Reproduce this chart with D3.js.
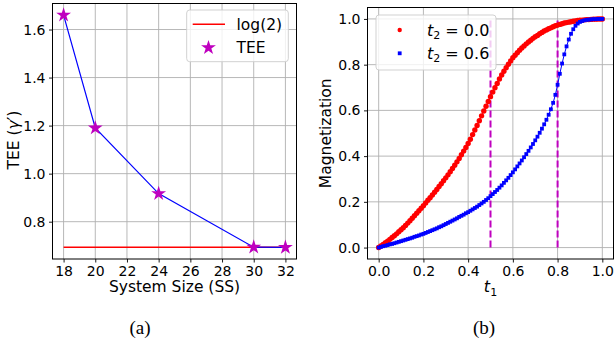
<!DOCTYPE html>
<html>
<head>
<meta charset="utf-8">
<script src="https://cdn.jsdelivr.net/npm/d3@7"></script>
<style>
  body { margin: 0; background: #fff; }
  svg { display: block; font-family: "DejaVu Sans", sans-serif; }
</style>
</head>
<body>
<div id="container"></div>
<script>
/* DATA */
// panel (a): TEE vs system size
const systemSize = [18, 20, 24, 30, 32]
const teeValues = [1.66, 1.19, 0.917, 0.694, 0.693]
const log2Level = 0.6931
const sizeTicks = [18, 20, 22, 24, 26, 28, 30, 32]
const teeTicks = [0.8, 1.0, 1.2, 1.4, 1.6]

// panel (b): magnetization vs t1
const t1Values = [
  0.00, 0.01, 0.02, 0.03, 0.04, 0.05, 0.06, 0.07, 0.08, 0.09,
  0.10, 0.11, 0.12, 0.13, 0.14, 0.15, 0.16, 0.17, 0.18, 0.19,
  0.20, 0.21, 0.22, 0.23, 0.24, 0.25, 0.26, 0.27, 0.28, 0.29,
  0.30, 0.31, 0.32, 0.33, 0.34, 0.35, 0.36, 0.37, 0.38, 0.39,
  0.40, 0.41, 0.42, 0.43, 0.44, 0.45, 0.46, 0.47, 0.48, 0.49,
  0.50, 0.51, 0.52, 0.53, 0.54, 0.55, 0.56, 0.57, 0.58, 0.59,
  0.60, 0.61, 0.62, 0.63, 0.64, 0.65, 0.66, 0.67, 0.68, 0.69,
  0.70, 0.71, 0.72, 0.73, 0.74, 0.75, 0.76, 0.77, 0.78, 0.79,
  0.80, 0.81, 0.82, 0.83, 0.84, 0.85, 0.86, 0.87, 0.88, 0.89,
  0.90, 0.91, 0.92, 0.93, 0.94, 0.95, 0.96, 0.97, 0.98, 0.99,
  1.00]
const magT2zero = [
  0.000, 0.007, 0.014, 0.021, 0.028, 0.036, 0.044, 0.052, 0.060, 0.069,
  0.078, 0.087, 0.097, 0.107, 0.117, 0.128, 0.139, 0.150, 0.161, 0.172,
  0.183, 0.195, 0.207, 0.218, 0.230, 0.242, 0.254, 0.267, 0.279, 0.292,
  0.305, 0.318, 0.332, 0.346, 0.360, 0.375, 0.390, 0.406, 0.422, 0.438,
  0.455, 0.474, 0.494, 0.514, 0.534, 0.555, 0.576, 0.597, 0.618, 0.639,
  0.660, 0.680, 0.699, 0.718, 0.737, 0.755, 0.771, 0.787, 0.802, 0.816,
  0.830, 0.841, 0.852, 0.863, 0.873, 0.882, 0.891, 0.899, 0.907, 0.915,
  0.922, 0.928, 0.935, 0.941, 0.947, 0.952, 0.957, 0.961, 0.966, 0.970,
  0.973, 0.976, 0.979, 0.982, 0.984, 0.986, 0.988, 0.990, 0.991, 0.993,
  0.994, 0.995, 0.996, 0.997, 0.997, 0.998, 0.999, 0.999, 1.000, 1.000,
  1.000]
const magT2six = [
  0.000, 0.003, 0.006, 0.008, 0.011, 0.014, 0.016, 0.019, 0.022, 0.025,
  0.028, 0.031, 0.034, 0.037, 0.040, 0.043, 0.047, 0.050, 0.053, 0.057,
  0.060, 0.064, 0.068, 0.072, 0.076, 0.080, 0.084, 0.089, 0.093, 0.098,
  0.103, 0.108, 0.113, 0.118, 0.123, 0.128, 0.134, 0.139, 0.144, 0.150,
  0.155, 0.161, 0.167, 0.173, 0.179, 0.186, 0.193, 0.200, 0.208, 0.216,
  0.225, 0.234, 0.243, 0.252, 0.262, 0.272, 0.283, 0.294, 0.305, 0.317,
  0.329, 0.342, 0.355, 0.368, 0.381, 0.395, 0.409, 0.423, 0.438, 0.453,
  0.469, 0.485, 0.502, 0.520, 0.539, 0.559, 0.581, 0.605, 0.633, 0.668,
  0.712, 0.760, 0.805, 0.845, 0.880, 0.910, 0.935, 0.955, 0.970, 0.980,
  0.987, 0.991, 0.994, 0.996, 0.997, 0.998, 0.999, 0.999, 1.000, 1.000,
  1.000]
const markLines = [0.5, 0.8]
const t1Ticks = [0.0, 0.2, 0.4, 0.6, 0.8, 1.0]
const magTicks = [0.0, 0.2, 0.4, 0.6, 0.8, 1.0]

/* CONSTANTS */
const width = 614, height = 345
const boxA = {x0: 52.5, x1: 296.5, y0: 3.5, y1: 259}
const boxB = {x0: 367.5, x1: 613.5, y0: 7.5, y1: 259}
const tickFont = "14px", labelFont = "15.5px"
const gridColor = "#b0b0b0"

const svg = d3.select("#container")
  .append("svg")
    .attr("width", width)
    .attr("height", height)

// helper: grid + axes for one panel
function drawFrame(g, box, x, y, xTicks, yTicks, fmtX, fmtY) {
  g.append("g").selectAll("line")
    .data(xTicks).join("line")
      .attr("x1", d => x(d)).attr("x2", d => x(d))
      .attr("y1", box.y0).attr("y2", box.y1)
      .attr("stroke", gridColor).attr("stroke-width", 0.9)
  g.append("g").selectAll("line")
    .data(yTicks).join("line")
      .attr("x1", box.x0).attr("x2", box.x1)
      .attr("y1", d => y(d)).attr("y2", d => y(d))
      .attr("stroke", gridColor).attr("stroke-width", 0.9)

  const ax = g.append("g")
    .attr("transform", "translate(0," + box.y1 + ")")
    .call(d3.axisBottom(x).tickValues(xTicks).tickFormat(fmtX).tickSize(3.5).tickPadding(3.5))
  const ay = g.append("g")
    .attr("transform", "translate(" + box.x0 + ",0)")
    .call(d3.axisLeft(y).tickValues(yTicks).tickFormat(fmtY).tickSize(3.5).tickPadding(3.5))
  for (const a of [ax, ay]) {
    a.select(".domain").remove()
    a.selectAll("text").attr("font-size", tickFont).attr("font-family", "DejaVu Sans").attr("fill", "#000")
    a.selectAll("line").attr("stroke", "#000").attr("stroke-width", 0.9)
  }
}

function drawBorder(g, box) {
  g.append("rect")
    .attr("x", box.x0).attr("y", box.y0)
    .attr("width", box.x1 - box.x0).attr("height", box.y1 - box.y0)
    .attr("fill", "none").attr("stroke", "#000").attr("stroke-width", 1)
}

/* PANEL (a) */
const gA = svg.append("g")
const xA = d3.scaleLinear().domain([17.3, 32.7]).range([boxA.x0, boxA.x1])
const yA = d3.scaleLinear().domain([0.6447, 1.7083]).range([boxA.y1, boxA.y0])
drawFrame(gA, boxA, xA, yA, sizeTicks, teeTicks, d3.format("d"), d3.format(".1f"))

gA.append("line")
  .attr("x1", xA(systemSize[0])).attr("x2", xA(systemSize[systemSize.length - 1]))
  .attr("y1", yA(log2Level)).attr("y2", yA(log2Level))
  .attr("stroke", "#ff0000").attr("stroke-width", 1.5)

const lineA = d3.line().x((d, i) => xA(systemSize[i])).y(d => yA(d))
gA.append("path")
  .datum(teeValues)
  .attr("d", lineA)
  .attr("fill", "none").attr("stroke", "#0000ff").attr("stroke-width", 1.2)

const star = d3.symbol().type(d3.symbolStar).size(7.8 * 7.8 / 0.8908)
gA.selectAll("path.star")
  .data(teeValues).join("path")
    .attr("class", "star")
    .attr("d", star)
    .attr("transform", (d, i) => "translate(" + xA(systemSize[i]) + "," + yA(d) + ")")
    .attr("fill", "#bf00bf")

drawBorder(gA, boxA)

// legend (a)
const legA = gA.append("g")
legA.append("rect")
  .attr("x", 186.7).attr("y", 10).attr("width", 101.6).attr("height", 51.7)
  .attr("rx", 3).attr("fill", "#fff").attr("fill-opacity", 0.8)
  .attr("stroke", "#cccccc").attr("stroke-width", 0.9)
legA.append("line")
  .attr("x1", 192.7).attr("x2", 225).attr("y1", 24.3).attr("y2", 24.3)
  .attr("stroke", "#ff0000").attr("stroke-width", 1.5)
legA.append("text").attr("x", 236.5).attr("y", 30).attr("font-size", labelFont).text("log(2)")
legA.append("path").attr("d", star)
  .attr("transform", "translate(208.5,47.7)").attr("fill", "#bf00bf")
legA.append("text").attr("x", 236.5).attr("y", 53.3).attr("font-size", labelFont).text("TEE")

// axis labels (a)
gA.append("text")
  .attr("x", (boxA.x0 + boxA.x1) / 2).attr("y", 292)
  .attr("text-anchor", "middle").attr("font-size", labelFont)
  .text("System Size (SS)")
const yLabA = gA.append("text")
  .attr("transform", "translate(19,140) rotate(-90)")
  .attr("text-anchor", "middle").attr("font-size", labelFont)
yLabA.append("tspan").text("TEE (")
yLabA.append("tspan").attr("font-style", "italic").text("\u03b3")
yLabA.append("tspan").text("\u2032)")

/* PANEL (b) */
const gB = svg.append("g")
const xB = d3.scaleLinear().domain([-0.05, 1.05]).range([boxB.x0, boxB.x1])
const yB = d3.scaleLinear().domain([-0.05, 1.05]).range([boxB.y1, boxB.y0])
drawFrame(gB, boxB, xB, yB, t1Ticks, magTicks, d3.format(".1f"), d3.format(".1f"))

gB.selectAll("line.mark")
  .data(markLines).join("line")
    .attr("class", "mark")
    .attr("x1", d => xB(d)).attr("x2", d => xB(d))
    .attr("y1", yB(0)).attr("y2", yB(1))
    .attr("stroke", "#bf00bf").attr("stroke-width", 2)
    .attr("stroke-dasharray", "7,3")

const lineB = d3.line().x((d, i) => xB(t1Values[i])).y(d => yB(d))
gB.append("path").datum(magT2zero).attr("d", lineB)
  .attr("fill", "none").attr("stroke", "#ff0000").attr("stroke-width", 1)
gB.selectAll("circle.red")
  .data(magT2zero).join("circle")
    .attr("class", "red")
    .attr("cx", (d, i) => xB(t1Values[i])).attr("cy", d => yB(d))
    .attr("r", 2.7).attr("fill", "#ff0000")

gB.append("path").datum(magT2six).attr("d", lineB)
  .attr("fill", "none").attr("stroke", "#0000ff").attr("stroke-width", 1)
gB.selectAll("rect.blue")
  .data(magT2six).join("rect")
    .attr("class", "blue")
    .attr("x", (d, i) => xB(t1Values[i]) - 1.9).attr("y", d => yB(d) - 1.9)
    .attr("width", 3.8).attr("height", 3.8).attr("fill", "#0000ff")

drawBorder(gB, boxB)

// legend (b)
const legB = gB.append("g")
legB.append("rect")
  .attr("x", 376).attr("y", 15).attr("width", 120).attr("height", 55)
  .attr("rx", 3).attr("fill", "#fff").attr("fill-opacity", 0.8)
  .attr("stroke", "#cccccc").attr("stroke-width", 0.9)
legB.append("circle").attr("cx", 399.7).attr("cy", 30).attr("r", 2.2).attr("fill", "#ff0000")
legB.append("rect").attr("x", 397.8).attr("y", 51.4).attr("width", 3.8).attr("height", 3.8).attr("fill", "#0000ff")
const legLabels = ["0.0", "0.6"]
legLabels.forEach((v, i) => {
  const t = legB.append("text").attr("x", 427).attr("y", 35.5 + i * 23.3).attr("font-size", "16px")
  t.append("tspan").attr("font-style", "italic").text("t")
  t.append("tspan").attr("font-size", "11px").attr("dy", 3.5).text("2")
  t.append("tspan").attr("dy", -3.5).text(" = " + v)
})

// axis labels (b)
const xLabB = gB.append("text")
  .attr("x", (boxB.x0 + boxB.x1) / 2).attr("y", 292)
  .attr("text-anchor", "middle").attr("font-size", "16px")
xLabB.append("tspan").attr("font-style", "italic").text("t")
xLabB.append("tspan").attr("font-size", "11px").attr("dy", 3.5).text("1")
gB.append("text")
  .attr("transform", "translate(331," + (boxB.y0 + boxB.y1) / 2 + ") rotate(-90)")
  .attr("text-anchor", "middle").attr("font-size", labelFont)
  .text("Magnetization")

/* CAPTIONS */
svg.selectAll("text.cap")
  .data([{x: 140, s: "(a)"}, {x: 484, s: "(b)"}]).join("text")
    .attr("class", "cap")
    .attr("x", d => d.x).attr("y", 334)
    .attr("text-anchor", "middle")
    .attr("font-family", "Liberation Serif, serif").attr("font-size", "19px")
    .text(d => d.s)
</script>
</body>
</html>
